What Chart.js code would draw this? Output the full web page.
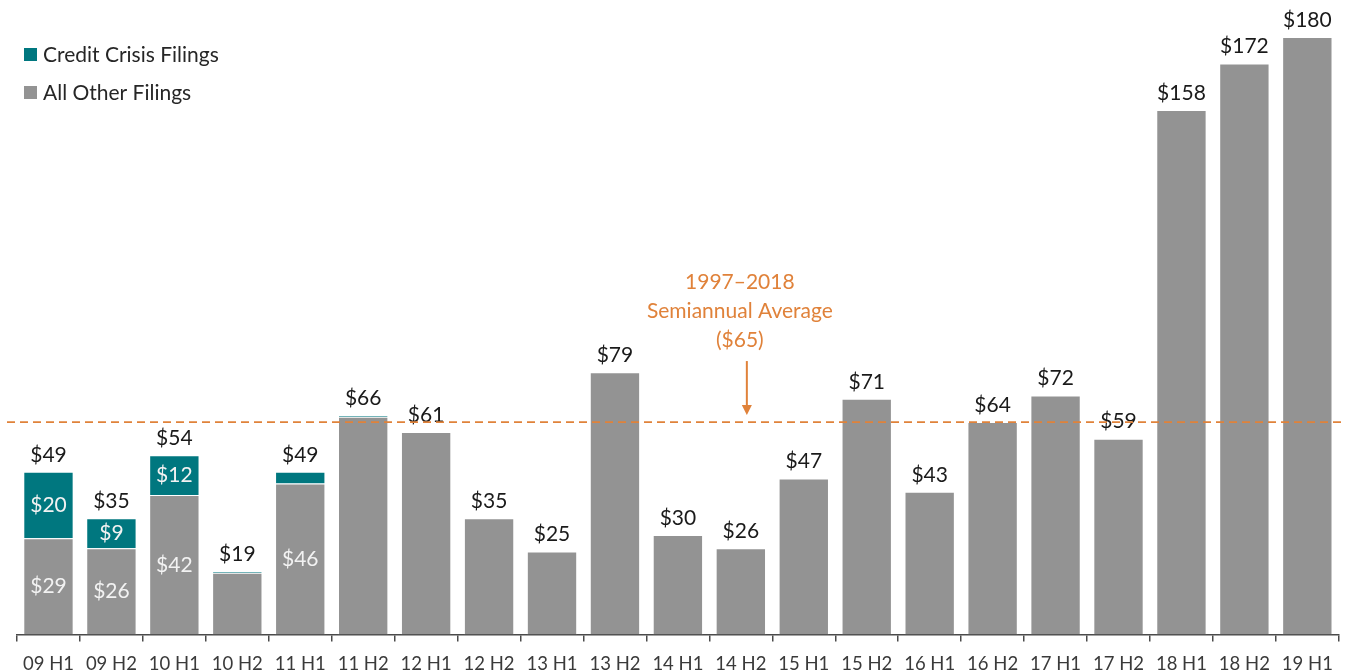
<!DOCTYPE html>
<html>
<head>
<meta charset="utf-8">
<script src="https://cdn.jsdelivr.net/npm/chart.js@4.4.1/dist/chart.umd.min.js"></script>
<style>
  html, body { margin: 0; padding: 0; background: #fff; overflow: hidden; }
  #wrap { width: 1346px; height: 676px; }
</style>
</head>
<body>
<div id="wrap"><canvas id="filingsChart"></canvas></div>
<script>
// half-year periods
const periods = ['09 H1', '09 H2', '10 H1', '10 H2', '11 H1', '11 H2', '12 H1', '12 H2', '13 H1', '13 H2', '14 H1',
    '14 H2', '15 H1', '15 H2', '16 H1', '16 H2', '17 H1', '17 H2', '18 H1', '18 H2', '19 H1'];
// $ values per period
const creditCrisis = [20, 9, 12, 0.4, 3.5, 0.4, 0, 0, 0, 0, 0, 0, 0, 0, 0, 0, 0, 0, 0, 0, 0];
const allOther = [29, 26, 42, 18.6, 45.5, 65.6, 61, 35, 25, 79, 30, 26, 47, 71, 43, 64, 72, 59, 158, 172, 180];
// 1997-2018 semiannual average
const averageLine = 64;
const averageText = ['1997\u20132018', 'Semiannual Average', '($65)'];

const teal = '#00777f';
const grey = '#939393';
const orange = '#e0823a';
const font = 'Lato, "Open Sans", sans-serif';

// labels, average line, legend
const overlay = {
    id: 'overlay',
    afterDatasetsDraw(chart) {
        const ctx = chart.ctx;
        const y = chart.scales.y;
        const x = chart.scales.x;
        const otherMeta = chart.getDatasetMeta(0);
        const creditMeta = chart.getDatasetMeta(1);
        ctx.save();
        ctx.textAlign = 'center';
        ctx.textBaseline = 'middle';
        ctx.font = '21px ' + font;
        periods.forEach((p, i) => {
            const total = allOther[i] + creditCrisis[i];
            const top = y.getPixelForValue(total);
            ctx.fillStyle = '#1a1a1a';
            ctx.fillText('$' + Math.round(total), x.getPixelForValue(i), top - 17);
            ctx.fillStyle = '#f2f2f2';
            if (creditCrisis[i] >= 5) {
                const b = creditMeta.data[i];
                ctx.fillText('$' + Math.round(creditCrisis[i]), b.x, (b.y + b.base) / 2);
            }
            if (creditCrisis[i] >= 2) {
                const b = otherMeta.data[i];
                ctx.fillText('$' + Math.round(allOther[i]), b.x, (b.y + b.base) / 2);
            }
        });

        // average line
        const ly = y.getPixelForValue(averageLine);
        ctx.strokeStyle = orange;
        ctx.lineWidth = 1.75;
        ctx.setLineDash([8, 5]);
        ctx.beginPath();
        ctx.moveTo(7, ly);
        ctx.lineTo(chart.width, ly);
        ctx.stroke();
        ctx.setLineDash([]);

        // arrow + text
        const ax = x.getPixelForValue(11) + 6;
        ctx.lineWidth = 2;
        ctx.beginPath();
        ctx.moveTo(ax, ly - 61);
        ctx.lineTo(ax, ly - 14);
        ctx.stroke();
        ctx.fillStyle = orange;
        ctx.beginPath();
        ctx.moveTo(ax - 5, ly - 17);
        ctx.lineTo(ax + 5, ly - 17);
        ctx.lineTo(ax, ly - 7);
        ctx.closePath();
        ctx.fill();
        averageText.forEach((t, k) => {
            ctx.fillText(t, ax - 7, ly - 140 + k * 29);
        });

        // legend
        const legendItems = [['Credit Crisis Filings', teal], ['All Other Filings', grey]];
        ctx.textAlign = 'left';
        legendItems.forEach((item, k) => {
            const cy = 55 + k * 38;
            ctx.fillStyle = item[1];
            ctx.fillRect(24, cy - 7, 13, 13);
            ctx.fillStyle = '#262626';
            ctx.fillText(item[0], 43, cy);
        });
        ctx.restore();
    }
};

const filingsData = {
    labels: periods,
    datasets: [
        {
            label: 'All Other Filings',
            data: allOther,
            backgroundColor: grey,
            borderColor: 'rgba(255,255,255,0.45)',
            borderWidth: 1
        },
        {
            label: 'Credit Crisis Filings',
            data: creditCrisis,
            backgroundColor: teal,
            borderColor: 'rgba(255,255,255,0.35)',
            borderWidth: 1
        }
    ]
};

const filingsConfig = {
    type: 'bar',
    data: filingsData,
    options: {
        responsive: true,
        maintainAspectRatio: false,
        animation: false,
        categoryPercentage: 1,
        barPercentage: 0.8,
        layout: {
            padding: { top: 37, left: 17, right: 6, bottom: -10 }
        },
        scales: {
            x: {
                stacked: true,
                grid: {
                    offset: true,
                    drawOnChartArea: false,
                    tickLength: 7,
                    color: '#4a4a4a',
                    lineWidth: 1.5
                },
                border: { color: '#4a4a4a', width: 1.5 },
                ticks: {
                    color: '#3a3a3a',
                    font: { size: 18.5, family: font, lineHeight: 1 },
                    padding: 13,
                    maxRotation: 0
                }
            },
            y: {
                stacked: true,
                display: false,
                min: 0,
                max: 180
            }
        },
        plugins: {
            legend: { display: false },
            tooltip: { enabled: false }
        }
    },
    plugins: [overlay]
};

const filingsElement = document.querySelector('#filingsChart');
const filingsChart = new Chart(filingsElement, filingsConfig);
</script>
</body>
</html>
